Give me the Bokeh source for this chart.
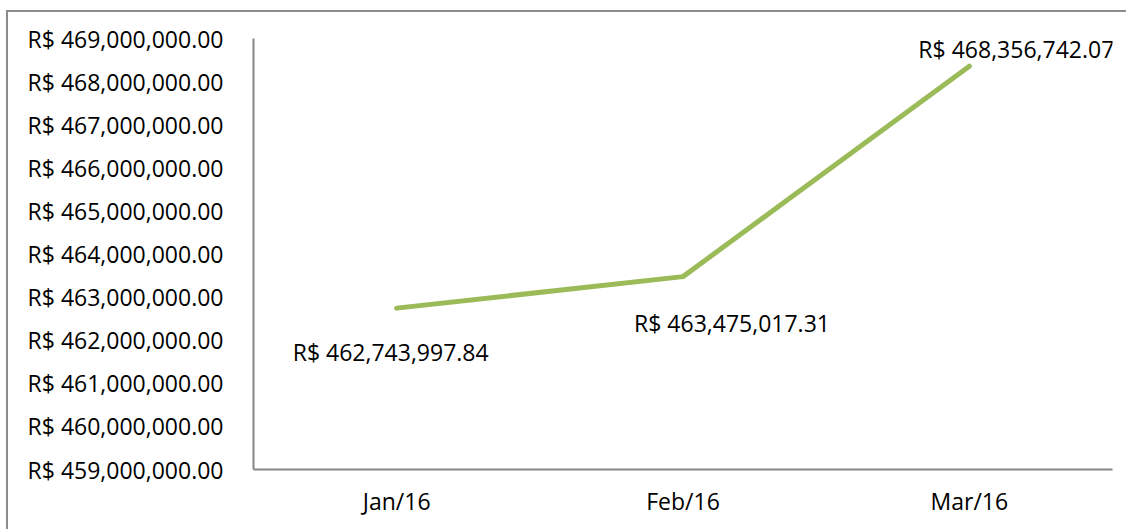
from bokeh.plotting import figure
from bokeh.models import ColumnDataSource, CustomJSTickFormatter, FixedTicker, Range1d
from bokeh.core.properties import value
from bokeh.embed import file_html
from bokeh.resources import INLINE

months = ["Jan/16", "Feb/16", "Mar/16"]
totals = [462743997.84, 463475017.31, 468356742.07]
labels = ["R$ 462,743,997.84", "R$ 463,475,017.31", "R$ 468,356,742.07"]
y_ticks = [459e6, 460e6, 461e6, 462e6, 463e6, 464e6, 465e6, 466e6, 467e6, 468e6, 469e6]

FONT = "Open Sans"
FS = "23px"

p = figure(x_range=months, y_range=Range1d(459e6, 469e6),
           width=1120, height=519, output_backend="svg", toolbar_location=None,
           min_border_left=245, min_border_top=26, min_border_bottom=62, min_border_right=16)
p.styles = {"border-left": "2px solid #8c8c8c", "border-top": "2px solid #8c8c8c",
            "box-sizing": "border-box", "margin-left": "6px", "margin-top": "10px"}
p.outline_line_color = None
p.xgrid.grid_line_color = None
p.ygrid.grid_line_color = None
p.x_range.range_padding = 0

src = ColumnDataSource(dict(x=months, y=totals, t=labels))
p.line("x", "y", source=src, line_color="#9bbb59", line_width=5, line_cap="round", line_join="round")

offsets = [(-6, 44), (49, 46), (47, -17)]
for i, (dx, dy) in enumerate(offsets):
    s = ColumnDataSource(dict(x=[months[i]], y=[totals[i]], t=[labels[i]]))
    p.text("x", "y", text="t", source=s, x_offset=dx, y_offset=dy,
           text_align="center", text_baseline="middle", text_color="#000000",
           text_font=value(FONT), text_font_size=FS)

p.yaxis.ticker = FixedTicker(ticks=y_ticks)
p.yaxis.formatter = CustomJSTickFormatter(code="""
return "R$ " + tick.toLocaleString("en-US", {minimumFractionDigits: 2, maximumFractionDigits: 2});
""")
for ax in (p.xaxis, p.yaxis):
    ax.axis_line_color = "#868686"
    ax.axis_line_width = 2
    ax.major_tick_line_color = None
    ax.minor_tick_line_color = None
    ax.major_label_text_font = FONT
    ax.major_label_text_font_size = FS
    ax.major_label_text_color = "#000000"
p.yaxis.major_label_standoff = 24
p.xaxis.major_label_standoff = 9

open("out.html", "w").write(file_html(p, INLINE))
